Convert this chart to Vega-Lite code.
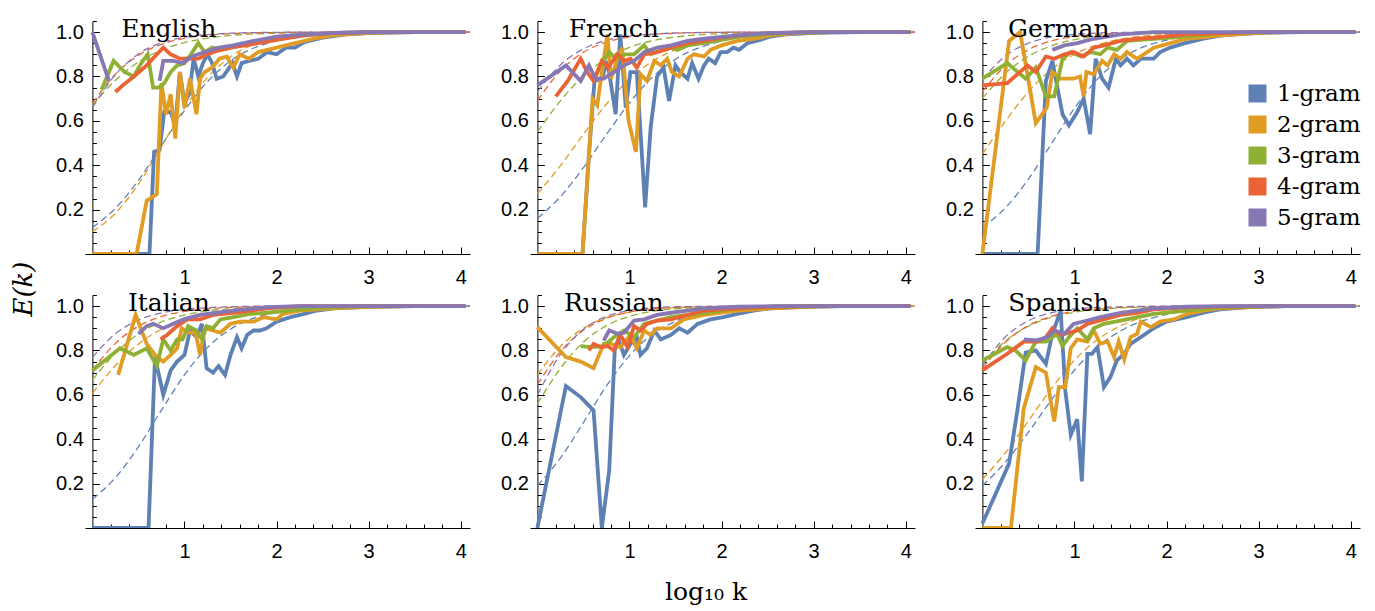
{
"$schema": "https://vega.github.io/schema/vega-lite/v6.json",
"padding": {"left": 11, "top": 16, "right": 5, "bottom": 5},
"background": "white",
"datasets": {
"langs": [
{"l":"EN","n":"English","r":1,"c":1},{"l":"FR","n":"French","r":1,"c":2},{"l":"DE","n":"German","r":1,"c":3},
{"l":"IT","n":"Italian","r":2,"c":1},{"l":"RU","n":"Russian","r":2,"c":2},{"l":"ES","n":"Spanish","r":2,"c":3}],
"pts": [
{"l":"EN","g":1,"t":"f","x":0,"y":0.119},{"l":"EN","g":1,"t":"f","x":0.25,"y":0.206},{"l":"EN","g":1,"t":"f","x":0.5,"y":0.332},{"l":"EN","g":1,"t":"f","x":0.75,"y":0.488},{"l":"EN","g":1,"t":"f","x":1,"y":0.646},{"l":"EN","g":1,"t":"f","x":1.25,"y":0.777},{"l":"EN","g":1,"t":"f","x":1.5,"y":0.87},{"l":"EN","g":1,"t":"f","x":2,"y":0.961},{"l":"EN","g":1,"t":"f","x":2.5,"y":0.989},{"l":"EN","g":1,"t":"f","x":4.1,"y":1},
{"l":"EN","g":2,"t":"f","x":0,"y":0.1},{"l":"EN","g":2,"t":"f","x":0.25,"y":0.184},{"l":"EN","g":2,"t":"f","x":0.5,"y":0.315},{"l":"EN","g":2,"t":"f","x":0.75,"y":0.485},{"l":"EN","g":2,"t":"f","x":1,"y":0.657},{"l":"EN","g":2,"t":"f","x":1.25,"y":0.796},{"l":"EN","g":2,"t":"f","x":1.5,"y":0.889},{"l":"EN","g":2,"t":"f","x":2,"y":0.971},{"l":"EN","g":2,"t":"f","x":2.5,"y":0.993},{"l":"EN","g":2,"t":"f","x":4.1,"y":1},
{"l":"EN","g":3,"t":"f","x":0,"y":0.67},{"l":"EN","g":3,"t":"f","x":0.25,"y":0.783},{"l":"EN","g":3,"t":"f","x":0.5,"y":0.865},{"l":"EN","g":3,"t":"f","x":0.75,"y":0.919},{"l":"EN","g":3,"t":"f","x":1,"y":0.953},{"l":"EN","g":3,"t":"f","x":1.25,"y":0.973},{"l":"EN","g":3,"t":"f","x":1.5,"y":0.985},{"l":"EN","g":3,"t":"f","x":2,"y":0.995},{"l":"EN","g":3,"t":"f","x":2.5,"y":0.998},{"l":"EN","g":3,"t":"f","x":4.1,"y":1},
{"l":"EN","g":4,"t":"f","x":0,"y":0.679},{"l":"EN","g":4,"t":"f","x":0.25,"y":0.81},{"l":"EN","g":4,"t":"f","x":0.5,"y":0.896},{"l":"EN","g":4,"t":"f","x":0.75,"y":0.945},{"l":"EN","g":4,"t":"f","x":1,"y":0.972},{"l":"EN","g":4,"t":"f","x":1.25,"y":0.986},{"l":"EN","g":4,"t":"f","x":1.5,"y":0.993},{"l":"EN","g":4,"t":"f","x":2,"y":0.998},{"l":"EN","g":4,"t":"f","x":2.5,"y":1},{"l":"EN","g":4,"t":"f","x":4.1,"y":1},
{"l":"EN","g":5,"t":"f","x":0,"y":0.659},{"l":"EN","g":5,"t":"f","x":0.25,"y":0.808},{"l":"EN","g":5,"t":"f","x":0.5,"y":0.901},{"l":"EN","g":5,"t":"f","x":0.75,"y":0.952},{"l":"EN","g":5,"t":"f","x":1,"y":0.977},{"l":"EN","g":5,"t":"f","x":1.25,"y":0.989},{"l":"EN","g":5,"t":"f","x":1.5,"y":0.995},{"l":"EN","g":5,"t":"f","x":2,"y":0.999},{"l":"EN","g":5,"t":"f","x":2.5,"y":1},{"l":"EN","g":5,"t":"f","x":4.1,"y":1},
{"l":"FR","g":1,"t":"f","x":0,"y":0.16},{"l":"FR","g":1,"t":"f","x":0.25,"y":0.258},{"l":"FR","g":1,"t":"f","x":0.5,"y":0.389},{"l":"FR","g":1,"t":"f","x":0.75,"y":0.539},{"l":"FR","g":1,"t":"f","x":1,"y":0.681},{"l":"FR","g":1,"t":"f","x":1.25,"y":0.797},{"l":"FR","g":1,"t":"f","x":1.5,"y":0.878},{"l":"FR","g":1,"t":"f","x":2,"y":0.96},{"l":"FR","g":1,"t":"f","x":2.5,"y":0.988},{"l":"FR","g":1,"t":"f","x":4.1,"y":1},
{"l":"FR","g":2,"t":"f","x":0,"y":0.271},{"l":"FR","g":2,"t":"f","x":0.25,"y":0.398},{"l":"FR","g":2,"t":"f","x":0.5,"y":0.54},{"l":"FR","g":2,"t":"f","x":0.75,"y":0.676},{"l":"FR","g":2,"t":"f","x":1,"y":0.788},{"l":"FR","g":2,"t":"f","x":1.25,"y":0.868},{"l":"FR","g":2,"t":"f","x":1.5,"y":0.921},{"l":"FR","g":2,"t":"f","x":2,"y":0.974},{"l":"FR","g":2,"t":"f","x":2.5,"y":0.992},{"l":"FR","g":2,"t":"f","x":4.1,"y":1},
{"l":"FR","g":3,"t":"f","x":0,"y":0.55},{"l":"FR","g":3,"t":"f","x":0.25,"y":0.69},{"l":"FR","g":3,"t":"f","x":0.5,"y":0.802},{"l":"FR","g":3,"t":"f","x":0.75,"y":0.881},{"l":"FR","g":3,"t":"f","x":1,"y":0.931},{"l":"FR","g":3,"t":"f","x":1.25,"y":0.961},{"l":"FR","g":3,"t":"f","x":1.5,"y":0.978},{"l":"FR","g":3,"t":"f","x":2,"y":0.993},{"l":"FR","g":3,"t":"f","x":2.5,"y":0.998},{"l":"FR","g":3,"t":"f","x":4.1,"y":1},
{"l":"FR","g":4,"t":"f","x":0,"y":0.69},{"l":"FR","g":4,"t":"f","x":0.25,"y":0.825},{"l":"FR","g":4,"t":"f","x":0.5,"y":0.909},{"l":"FR","g":4,"t":"f","x":0.75,"y":0.955},{"l":"FR","g":4,"t":"f","x":1,"y":0.978},{"l":"FR","g":4,"t":"f","x":1.25,"y":0.99},{"l":"FR","g":4,"t":"f","x":1.5,"y":0.995},{"l":"FR","g":4,"t":"f","x":2,"y":0.999},{"l":"FR","g":4,"t":"f","x":2.5,"y":1},{"l":"FR","g":4,"t":"f","x":4.1,"y":1},
{"l":"FR","g":5,"t":"f","x":0,"y":0.731},{"l":"FR","g":5,"t":"f","x":0.25,"y":0.852},{"l":"FR","g":5,"t":"f","x":0.5,"y":0.924},{"l":"FR","g":5,"t":"f","x":0.75,"y":0.963},{"l":"FR","g":5,"t":"f","x":1,"y":0.982},{"l":"FR","g":5,"t":"f","x":1.25,"y":0.991},{"l":"FR","g":5,"t":"f","x":1.5,"y":0.996},{"l":"FR","g":5,"t":"f","x":2,"y":0.999},{"l":"FR","g":5,"t":"f","x":2.5,"y":1},{"l":"FR","g":5,"t":"f","x":4.1,"y":1},
{"l":"DE","g":1,"t":"f","x":0,"y":0.119},{"l":"DE","g":1,"t":"f","x":0.25,"y":0.208},{"l":"DE","g":1,"t":"f","x":0.5,"y":0.337},{"l":"DE","g":1,"t":"f","x":0.75,"y":0.497},{"l":"DE","g":1,"t":"f","x":1,"y":0.657},{"l":"DE","g":1,"t":"f","x":1.25,"y":0.788},{"l":"DE","g":1,"t":"f","x":1.5,"y":0.878},{"l":"DE","g":1,"t":"f","x":2,"y":0.964},{"l":"DE","g":1,"t":"f","x":2.5,"y":0.99},{"l":"DE","g":1,"t":"f","x":4.1,"y":1},
{"l":"DE","g":2,"t":"f","x":0,"y":0.45},{"l":"DE","g":2,"t":"f","x":0.25,"y":0.599},{"l":"DE","g":2,"t":"f","x":0.5,"y":0.731},{"l":"DE","g":2,"t":"f","x":0.75,"y":0.832},{"l":"DE","g":2,"t":"f","x":1,"y":0.9},{"l":"DE","g":2,"t":"f","x":1.25,"y":0.943},{"l":"DE","g":2,"t":"f","x":1.5,"y":0.968},{"l":"DE","g":2,"t":"f","x":2,"y":0.99},{"l":"DE","g":2,"t":"f","x":2.5,"y":0.997},{"l":"DE","g":2,"t":"f","x":4.1,"y":1},
{"l":"DE","g":3,"t":"f","x":0,"y":0.701},{"l":"DE","g":3,"t":"f","x":0.25,"y":0.814},{"l":"DE","g":3,"t":"f","x":0.5,"y":0.891},{"l":"DE","g":3,"t":"f","x":0.75,"y":0.938},{"l":"DE","g":3,"t":"f","x":1,"y":0.966},{"l":"DE","g":3,"t":"f","x":1.25,"y":0.982},{"l":"DE","g":3,"t":"f","x":1.5,"y":0.99},{"l":"DE","g":3,"t":"f","x":2,"y":0.997},{"l":"DE","g":3,"t":"f","x":2.5,"y":0.999},{"l":"DE","g":3,"t":"f","x":4.1,"y":1},
{"l":"DE","g":4,"t":"f","x":0,"y":0.731},{"l":"DE","g":4,"t":"f","x":0.25,"y":0.849},{"l":"DE","g":4,"t":"f","x":0.5,"y":0.921},{"l":"DE","g":4,"t":"f","x":0.75,"y":0.96},{"l":"DE","g":4,"t":"f","x":1,"y":0.98},{"l":"DE","g":4,"t":"f","x":1.25,"y":0.99},{"l":"DE","g":4,"t":"f","x":1.5,"y":0.995},{"l":"DE","g":4,"t":"f","x":2,"y":0.999},{"l":"DE","g":4,"t":"f","x":2.5,"y":1},{"l":"DE","g":4,"t":"f","x":4.1,"y":1},
{"l":"DE","g":5,"t":"f","x":0,"y":0.786},{"l":"DE","g":5,"t":"f","x":0.25,"y":0.893},{"l":"DE","g":5,"t":"f","x":0.5,"y":0.95},{"l":"DE","g":5,"t":"f","x":0.75,"y":0.978},{"l":"DE","g":5,"t":"f","x":1,"y":0.99},{"l":"DE","g":5,"t":"f","x":1.25,"y":0.996},{"l":"DE","g":5,"t":"f","x":1.5,"y":0.998},{"l":"DE","g":5,"t":"f","x":2,"y":1},{"l":"DE","g":5,"t":"f","x":2.5,"y":1},{"l":"DE","g":5,"t":"f","x":4.1,"y":1},
{"l":"IT","g":1,"t":"f","x":0,"y":0.13},{"l":"IT","g":1,"t":"f","x":0.25,"y":0.227},{"l":"IT","g":1,"t":"f","x":0.5,"y":0.366},{"l":"IT","g":1,"t":"f","x":0.75,"y":0.531},{"l":"IT","g":1,"t":"f","x":1,"y":0.69},{"l":"IT","g":1,"t":"f","x":1.25,"y":0.814},{"l":"IT","g":1,"t":"f","x":1.5,"y":0.896},{"l":"IT","g":1,"t":"f","x":2,"y":0.971},{"l":"IT","g":1,"t":"f","x":2.5,"y":0.992},{"l":"IT","g":1,"t":"f","x":4.1,"y":1},
{"l":"IT","g":2,"t":"f","x":0,"y":0.606},{"l":"IT","g":2,"t":"f","x":0.25,"y":0.732},{"l":"IT","g":2,"t":"f","x":0.5,"y":0.829},{"l":"IT","g":2,"t":"f","x":0.75,"y":0.896},{"l":"IT","g":2,"t":"f","x":1,"y":0.939},{"l":"IT","g":2,"t":"f","x":1.25,"y":0.965},{"l":"IT","g":2,"t":"f","x":1.5,"y":0.98},{"l":"IT","g":2,"t":"f","x":2,"y":0.993},{"l":"IT","g":2,"t":"f","x":2.5,"y":0.998},{"l":"IT","g":2,"t":"f","x":4.1,"y":1},
{"l":"IT","g":3,"t":"f","x":0,"y":0.666},{"l":"IT","g":3,"t":"f","x":0.25,"y":0.788},{"l":"IT","g":3,"t":"f","x":0.5,"y":0.874},{"l":"IT","g":3,"t":"f","x":0.75,"y":0.929},{"l":"IT","g":3,"t":"f","x":1,"y":0.96},{"l":"IT","g":3,"t":"f","x":1.25,"y":0.978},{"l":"IT","g":3,"t":"f","x":1.5,"y":0.988},{"l":"IT","g":3,"t":"f","x":2,"y":0.997},{"l":"IT","g":3,"t":"f","x":2.5,"y":0.999},{"l":"IT","g":3,"t":"f","x":4.1,"y":1},
{"l":"IT","g":4,"t":"f","x":0,"y":0.711},{"l":"IT","g":4,"t":"f","x":0.25,"y":0.832},{"l":"IT","g":4,"t":"f","x":0.5,"y":0.909},{"l":"IT","g":4,"t":"f","x":0.75,"y":0.953},{"l":"IT","g":4,"t":"f","x":1,"y":0.976},{"l":"IT","g":4,"t":"f","x":1.25,"y":0.988},{"l":"IT","g":4,"t":"f","x":1.5,"y":0.994},{"l":"IT","g":4,"t":"f","x":2,"y":0.998},{"l":"IT","g":4,"t":"f","x":2.5,"y":1},{"l":"IT","g":4,"t":"f","x":4.1,"y":1},
{"l":"IT","g":5,"t":"f","x":0,"y":0.769},{"l":"IT","g":5,"t":"f","x":0.25,"y":0.875},{"l":"IT","g":5,"t":"f","x":0.5,"y":0.937},{"l":"IT","g":5,"t":"f","x":0.75,"y":0.969},{"l":"IT","g":5,"t":"f","x":1,"y":0.985},{"l":"IT","g":5,"t":"f","x":1.25,"y":0.993},{"l":"IT","g":5,"t":"f","x":1.5,"y":0.997},{"l":"IT","g":5,"t":"f","x":2,"y":1},{"l":"IT","g":5,"t":"f","x":2.5,"y":1},{"l":"IT","g":5,"t":"f","x":4.1,"y":1},
{"l":"RU","g":1,"t":"f","x":0,"y":0.19},{"l":"RU","g":1,"t":"f","x":0.25,"y":0.315},{"l":"RU","g":1,"t":"f","x":0.5,"y":0.475},{"l":"RU","g":1,"t":"f","x":0.75,"y":0.64},{"l":"RU","g":1,"t":"f","x":1,"y":0.777},{"l":"RU","g":1,"t":"f","x":1.25,"y":0.873},{"l":"RU","g":1,"t":"f","x":1.5,"y":0.931},{"l":"RU","g":1,"t":"f","x":2,"y":0.981},{"l":"RU","g":1,"t":"f","x":2.5,"y":0.995},{"l":"RU","g":1,"t":"f","x":4.1,"y":1},
{"l":"RU","g":2,"t":"f","x":0,"y":0.69},{"l":"RU","g":2,"t":"f","x":0.25,"y":0.818},{"l":"RU","g":2,"t":"f","x":0.5,"y":0.9},{"l":"RU","g":2,"t":"f","x":0.75,"y":0.948},{"l":"RU","g":2,"t":"f","x":1,"y":0.973},{"l":"RU","g":2,"t":"f","x":1.25,"y":0.987},{"l":"RU","g":2,"t":"f","x":1.5,"y":0.993},{"l":"RU","g":2,"t":"f","x":2,"y":0.998},{"l":"RU","g":2,"t":"f","x":2.5,"y":1},{"l":"RU","g":2,"t":"f","x":4.1,"y":1},
{"l":"RU","g":3,"t":"f","x":0,"y":0.56},{"l":"RU","g":3,"t":"f","x":0.25,"y":0.719},{"l":"RU","g":3,"t":"f","x":0.5,"y":0.838},{"l":"RU","g":3,"t":"f","x":0.75,"y":0.912},{"l":"RU","g":3,"t":"f","x":1,"y":0.954},{"l":"RU","g":3,"t":"f","x":1.25,"y":0.977},{"l":"RU","g":3,"t":"f","x":1.5,"y":0.988},{"l":"RU","g":3,"t":"f","x":2,"y":0.997},{"l":"RU","g":3,"t":"f","x":2.5,"y":1},{"l":"RU","g":3,"t":"f","x":4.1,"y":1},
{"l":"RU","g":4,"t":"f","x":0,"y":0.646},{"l":"RU","g":4,"t":"f","x":0.25,"y":0.794},{"l":"RU","g":4,"t":"f","x":0.5,"y":0.891},{"l":"RU","g":4,"t":"f","x":0.75,"y":0.945},{"l":"RU","g":4,"t":"f","x":1,"y":0.973},{"l":"RU","g":4,"t":"f","x":1.25,"y":0.987},{"l":"RU","g":4,"t":"f","x":1.5,"y":0.994},{"l":"RU","g":4,"t":"f","x":2,"y":0.999},{"l":"RU","g":4,"t":"f","x":2.5,"y":1},{"l":"RU","g":4,"t":"f","x":4.1,"y":1},
{"l":"RU","g":5,"t":"f","x":0,"y":0.599},{"l":"RU","g":5,"t":"f","x":0.25,"y":0.782},{"l":"RU","g":5,"t":"f","x":0.5,"y":0.896},{"l":"RU","g":5,"t":"f","x":0.75,"y":0.954},{"l":"RU","g":5,"t":"f","x":1,"y":0.98},{"l":"RU","g":5,"t":"f","x":1.25,"y":0.992},{"l":"RU","g":5,"t":"f","x":1.5,"y":0.997},{"l":"RU","g":5,"t":"f","x":2,"y":0.999},{"l":"RU","g":5,"t":"f","x":2.5,"y":1},{"l":"RU","g":5,"t":"f","x":4.1,"y":1},
{"l":"ES","g":1,"t":"f","x":0,"y":0.19},{"l":"ES","g":1,"t":"f","x":0.25,"y":0.297},{"l":"ES","g":1,"t":"f","x":0.5,"y":0.432},{"l":"ES","g":1,"t":"f","x":0.75,"y":0.577},{"l":"ES","g":1,"t":"f","x":1,"y":0.711},{"l":"ES","g":1,"t":"f","x":1.25,"y":0.816},{"l":"ES","g":1,"t":"f","x":1.5,"y":0.888},{"l":"ES","g":1,"t":"f","x":2,"y":0.963},{"l":"ES","g":1,"t":"f","x":2.5,"y":0.988},{"l":"ES","g":1,"t":"f","x":4.1,"y":1},
{"l":"ES","g":2,"t":"f","x":0,"y":0.219},{"l":"ES","g":2,"t":"f","x":0.25,"y":0.339},{"l":"ES","g":2,"t":"f","x":0.5,"y":0.483},{"l":"ES","g":2,"t":"f","x":0.75,"y":0.629},{"l":"ES","g":2,"t":"f","x":1,"y":0.756},{"l":"ES","g":2,"t":"f","x":1.25,"y":0.849},{"l":"ES","g":2,"t":"f","x":1.5,"y":0.911},{"l":"ES","g":2,"t":"f","x":2,"y":0.972},{"l":"ES","g":2,"t":"f","x":2.5,"y":0.991},{"l":"ES","g":2,"t":"f","x":4.1,"y":1},
{"l":"ES","g":3,"t":"f","x":0,"y":0.741},{"l":"ES","g":3,"t":"f","x":0.25,"y":0.842},{"l":"ES","g":3,"t":"f","x":0.5,"y":0.909},{"l":"ES","g":3,"t":"f","x":0.75,"y":0.949},{"l":"ES","g":3,"t":"f","x":1,"y":0.972},{"l":"ES","g":3,"t":"f","x":1.25,"y":0.985},{"l":"ES","g":3,"t":"f","x":1.5,"y":0.992},{"l":"ES","g":3,"t":"f","x":2,"y":0.998},{"l":"ES","g":3,"t":"f","x":2.5,"y":1},{"l":"ES","g":3,"t":"f","x":4.1,"y":1},
{"l":"ES","g":4,"t":"f","x":0,"y":0.719},{"l":"ES","g":4,"t":"f","x":0.25,"y":0.838},{"l":"ES","g":4,"t":"f","x":0.5,"y":0.912},{"l":"ES","g":4,"t":"f","x":0.75,"y":0.954},{"l":"ES","g":4,"t":"f","x":1,"y":0.977},{"l":"ES","g":4,"t":"f","x":1.25,"y":0.988},{"l":"ES","g":4,"t":"f","x":1.5,"y":0.994},{"l":"ES","g":4,"t":"f","x":2,"y":0.999},{"l":"ES","g":4,"t":"f","x":2.5,"y":1},{"l":"ES","g":4,"t":"f","x":4.1,"y":1},
{"l":"ES","g":5,"t":"f","x":0,"y":0.731},{"l":"ES","g":5,"t":"f","x":0.25,"y":0.861},{"l":"ES","g":5,"t":"f","x":0.5,"y":0.934},{"l":"ES","g":5,"t":"f","x":0.75,"y":0.97},{"l":"ES","g":5,"t":"f","x":1,"y":0.987},{"l":"ES","g":5,"t":"f","x":1.25,"y":0.994},{"l":"ES","g":5,"t":"f","x":1.5,"y":0.997},{"l":"ES","g":5,"t":"f","x":2,"y":1},{"l":"ES","g":5,"t":"f","x":2.5,"y":1},{"l":"ES","g":5,"t":"f","x":4.1,"y":1},

{"l":"EN","g":1,"t":"d","x":0,"y":0},{"l":"EN","g":1,"t":"d","x":0.62,"y":0},{"l":"EN","g":1,"t":"d","x":0.67,"y":0.46},{"l":"EN","g":1,"t":"d","x":0.73,"y":0.47},{"l":"EN","g":1,"t":"d","x":0.78,"y":0.64},{"l":"EN","g":1,"t":"d","x":0.85,"y":0.64},{"l":"EN","g":1,"t":"d","x":0.9,"y":0.58},{"l":"EN","g":1,"t":"d","x":0.95,"y":0.82},{"l":"EN","g":1,"t":"d","x":1,"y":0.68},{"l":"EN","g":1,"t":"d","x":1.05,"y":0.72},{"l":"EN","g":1,"t":"d","x":1.1,"y":0.88},{"l":"EN","g":1,"t":"d","x":1.15,"y":0.8},{"l":"EN","g":1,"t":"d","x":1.2,"y":0.86},{"l":"EN","g":1,"t":"d","x":1.25,"y":0.9},{"l":"EN","g":1,"t":"d","x":1.3,"y":0.86},{"l":"EN","g":1,"t":"d","x":1.35,"y":0.79},{"l":"EN","g":1,"t":"d","x":1.42,"y":0.8},{"l":"EN","g":1,"t":"d","x":1.47,"y":0.83},{"l":"EN","g":1,"t":"d","x":1.52,"y":0.86},{"l":"EN","g":1,"t":"d","x":1.57,"y":0.8},{"l":"EN","g":1,"t":"d","x":1.62,"y":0.86},{"l":"EN","g":1,"t":"d","x":1.7,"y":0.87},{"l":"EN","g":1,"t":"d","x":1.8,"y":0.88},{"l":"EN","g":1,"t":"d","x":1.9,"y":0.91},{"l":"EN","g":1,"t":"d","x":2,"y":0.9},{"l":"EN","g":1,"t":"d","x":2.1,"y":0.93},{"l":"EN","g":1,"t":"d","x":2.2,"y":0.93},{"l":"EN","g":1,"t":"d","x":2.3,"y":0.955},{"l":"EN","g":1,"t":"d","x":2.5,"y":0.975},{"l":"EN","g":1,"t":"d","x":2.75,"y":0.99},{"l":"EN","g":1,"t":"d","x":3,"y":0.996},{"l":"EN","g":1,"t":"d","x":3.5,"y":1},{"l":"EN","g":1,"t":"d","x":4.05,"y":1},
{"l":"EN","g":2,"t":"d","x":0,"y":0},{"l":"EN","g":2,"t":"d","x":0.48,"y":0},{"l":"EN","g":2,"t":"d","x":0.59,"y":0.24},{"l":"EN","g":2,"t":"d","x":0.7,"y":0.27},{"l":"EN","g":2,"t":"d","x":0.75,"y":0.77},{"l":"EN","g":2,"t":"d","x":0.8,"y":0.63},{"l":"EN","g":2,"t":"d","x":0.85,"y":0.72},{"l":"EN","g":2,"t":"d","x":0.9,"y":0.52},{"l":"EN","g":2,"t":"d","x":0.95,"y":0.82},{"l":"EN","g":2,"t":"d","x":1,"y":0.66},{"l":"EN","g":2,"t":"d","x":1.06,"y":0.79},{"l":"EN","g":2,"t":"d","x":1.13,"y":0.63},{"l":"EN","g":2,"t":"d","x":1.17,"y":0.79},{"l":"EN","g":2,"t":"d","x":1.22,"y":0.82},{"l":"EN","g":2,"t":"d","x":1.3,"y":0.84},{"l":"EN","g":2,"t":"d","x":1.38,"y":0.88},{"l":"EN","g":2,"t":"d","x":1.46,"y":0.89},{"l":"EN","g":2,"t":"d","x":1.53,"y":0.84},{"l":"EN","g":2,"t":"d","x":1.6,"y":0.9},{"l":"EN","g":2,"t":"d","x":1.7,"y":0.88},{"l":"EN","g":2,"t":"d","x":1.8,"y":0.91},{"l":"EN","g":2,"t":"d","x":1.9,"y":0.92},{"l":"EN","g":2,"t":"d","x":2,"y":0.93},{"l":"EN","g":2,"t":"d","x":2.2,"y":0.95},{"l":"EN","g":2,"t":"d","x":2.4,"y":0.97},{"l":"EN","g":2,"t":"d","x":2.6,"y":0.985},{"l":"EN","g":2,"t":"d","x":3,"y":0.997},{"l":"EN","g":2,"t":"d","x":3.5,"y":1},{"l":"EN","g":2,"t":"d","x":4.05,"y":1},
{"l":"EN","g":3,"t":"d","x":0.1,"y":0.74},{"l":"EN","g":3,"t":"d","x":0.23,"y":0.87},{"l":"EN","g":3,"t":"d","x":0.35,"y":0.82},{"l":"EN","g":3,"t":"d","x":0.45,"y":0.8},{"l":"EN","g":3,"t":"d","x":0.53,"y":0.86},{"l":"EN","g":3,"t":"d","x":0.6,"y":0.9},{"l":"EN","g":3,"t":"d","x":0.66,"y":0.75},{"l":"EN","g":3,"t":"d","x":0.72,"y":0.75},{"l":"EN","g":3,"t":"d","x":0.78,"y":0.77},{"l":"EN","g":3,"t":"d","x":0.85,"y":0.82},{"l":"EN","g":3,"t":"d","x":0.92,"y":0.85},{"l":"EN","g":3,"t":"d","x":1,"y":0.86},{"l":"EN","g":3,"t":"d","x":1.07,"y":0.9},{"l":"EN","g":3,"t":"d","x":1.15,"y":0.95},{"l":"EN","g":3,"t":"d","x":1.22,"y":0.91},{"l":"EN","g":3,"t":"d","x":1.3,"y":0.93},{"l":"EN","g":3,"t":"d","x":1.4,"y":0.92},{"l":"EN","g":3,"t":"d","x":1.5,"y":0.93},{"l":"EN","g":3,"t":"d","x":1.6,"y":0.94},{"l":"EN","g":3,"t":"d","x":1.75,"y":0.95},{"l":"EN","g":3,"t":"d","x":1.9,"y":0.96},{"l":"EN","g":3,"t":"d","x":2.1,"y":0.975},{"l":"EN","g":3,"t":"d","x":2.3,"y":0.985},{"l":"EN","g":3,"t":"d","x":2.6,"y":0.995},{"l":"EN","g":3,"t":"d","x":3,"y":1},{"l":"EN","g":3,"t":"d","x":4.05,"y":1},
{"l":"EN","g":4,"t":"d","x":0.25,"y":0.73},{"l":"EN","g":4,"t":"d","x":0.33,"y":0.76},{"l":"EN","g":4,"t":"d","x":0.45,"y":0.8},{"l":"EN","g":4,"t":"d","x":0.59,"y":0.85},{"l":"EN","g":4,"t":"d","x":0.7,"y":0.9},{"l":"EN","g":4,"t":"d","x":0.77,"y":0.93},{"l":"EN","g":4,"t":"d","x":0.85,"y":0.9},{"l":"EN","g":4,"t":"d","x":0.95,"y":0.88},{"l":"EN","g":4,"t":"d","x":1.05,"y":0.88},{"l":"EN","g":4,"t":"d","x":1.15,"y":0.88},{"l":"EN","g":4,"t":"d","x":1.25,"y":0.9},{"l":"EN","g":4,"t":"d","x":1.35,"y":0.915},{"l":"EN","g":4,"t":"d","x":1.5,"y":0.93},{"l":"EN","g":4,"t":"d","x":1.65,"y":0.94},{"l":"EN","g":4,"t":"d","x":1.8,"y":0.95},{"l":"EN","g":4,"t":"d","x":2,"y":0.965},{"l":"EN","g":4,"t":"d","x":2.3,"y":0.985},{"l":"EN","g":4,"t":"d","x":2.6,"y":0.995},{"l":"EN","g":4,"t":"d","x":3,"y":1},{"l":"EN","g":4,"t":"d","x":4.05,"y":1},
{"l":"EN","g":5,"t":"d","x":0,"y":1},{"l":"EN","g":5,"t":"d","x":0.18,"y":0.78},{"l":"EN","g":5,"t":"d","x":0.4,"y":null},{"l":"EN","g":5,"t":"d","x":0.73,"y":0.78},{"l":"EN","g":5,"t":"d","x":0.77,"y":0.87},{"l":"EN","g":5,"t":"d","x":0.88,"y":0.87},{"l":"EN","g":5,"t":"d","x":0.98,"y":0.86},{"l":"EN","g":5,"t":"d","x":1.08,"y":0.89},{"l":"EN","g":5,"t":"d","x":1.22,"y":0.91},{"l":"EN","g":5,"t":"d","x":1.37,"y":0.93},{"l":"EN","g":5,"t":"d","x":1.53,"y":0.94},{"l":"EN","g":5,"t":"d","x":1.75,"y":0.96},{"l":"EN","g":5,"t":"d","x":2,"y":0.98},{"l":"EN","g":5,"t":"d","x":2.3,"y":0.99},{"l":"EN","g":5,"t":"d","x":2.7,"y":0.997},{"l":"EN","g":5,"t":"d","x":3,"y":1},{"l":"EN","g":5,"t":"d","x":4.05,"y":1},

{"l":"FR","g":1,"t":"d","x":0,"y":0},{"l":"FR","g":1,"t":"d","x":0.49,"y":0},{"l":"FR","g":1,"t":"d","x":0.56,"y":0.45},{"l":"FR","g":1,"t":"d","x":0.62,"y":0.78},{"l":"FR","g":1,"t":"d","x":0.7,"y":0.79},{"l":"FR","g":1,"t":"d","x":0.76,"y":0.87},{"l":"FR","g":1,"t":"d","x":0.85,"y":0.63},{"l":"FR","g":1,"t":"d","x":0.9,"y":0.99},{"l":"FR","g":1,"t":"d","x":0.96,"y":0.66},{"l":"FR","g":1,"t":"d","x":1.01,"y":0.82},{"l":"FR","g":1,"t":"d","x":1.08,"y":0.82},{"l":"FR","g":1,"t":"d","x":1.17,"y":0.21},{"l":"FR","g":1,"t":"d","x":1.23,"y":0.57},{"l":"FR","g":1,"t":"d","x":1.3,"y":0.8},{"l":"FR","g":1,"t":"d","x":1.37,"y":0.84},{"l":"FR","g":1,"t":"d","x":1.43,"y":0.69},{"l":"FR","g":1,"t":"d","x":1.5,"y":0.85},{"l":"FR","g":1,"t":"d","x":1.55,"y":0.82},{"l":"FR","g":1,"t":"d","x":1.63,"y":0.79},{"l":"FR","g":1,"t":"d","x":1.68,"y":0.86},{"l":"FR","g":1,"t":"d","x":1.75,"y":0.79},{"l":"FR","g":1,"t":"d","x":1.81,"y":0.85},{"l":"FR","g":1,"t":"d","x":1.86,"y":0.88},{"l":"FR","g":1,"t":"d","x":1.93,"y":0.86},{"l":"FR","g":1,"t":"d","x":1.99,"y":0.91},{"l":"FR","g":1,"t":"d","x":2.06,"y":0.91},{"l":"FR","g":1,"t":"d","x":2.13,"y":0.93},{"l":"FR","g":1,"t":"d","x":2.19,"y":0.92},{"l":"FR","g":1,"t":"d","x":2.28,"y":0.95},{"l":"FR","g":1,"t":"d","x":2.42,"y":0.965},{"l":"FR","g":1,"t":"d","x":2.53,"y":0.98},{"l":"FR","g":1,"t":"d","x":2.7,"y":0.99},{"l":"FR","g":1,"t":"d","x":3,"y":0.997},{"l":"FR","g":1,"t":"d","x":3.5,"y":1},{"l":"FR","g":1,"t":"d","x":4.05,"y":1},
{"l":"FR","g":2,"t":"d","x":0,"y":0},{"l":"FR","g":2,"t":"d","x":0.49,"y":0},{"l":"FR","g":2,"t":"d","x":0.6,"y":0.7},{"l":"FR","g":2,"t":"d","x":0.65,"y":0.67},{"l":"FR","g":2,"t":"d","x":0.76,"y":0.99},{"l":"FR","g":2,"t":"d","x":0.8,"y":0.79},{"l":"FR","g":2,"t":"d","x":0.87,"y":0.88},{"l":"FR","g":2,"t":"d","x":0.92,"y":0.93},{"l":"FR","g":2,"t":"d","x":0.99,"y":0.6},{"l":"FR","g":2,"t":"d","x":1.07,"y":0.46},{"l":"FR","g":2,"t":"d","x":1.12,"y":0.81},{"l":"FR","g":2,"t":"d","x":1.19,"y":0.78},{"l":"FR","g":2,"t":"d","x":1.27,"y":0.87},{"l":"FR","g":2,"t":"d","x":1.34,"y":0.85},{"l":"FR","g":2,"t":"d","x":1.41,"y":0.88},{"l":"FR","g":2,"t":"d","x":1.46,"y":0.82},{"l":"FR","g":2,"t":"d","x":1.54,"y":0.8},{"l":"FR","g":2,"t":"d","x":1.63,"y":0.88},{"l":"FR","g":2,"t":"d","x":1.7,"y":0.9},{"l":"FR","g":2,"t":"d","x":1.81,"y":0.89},{"l":"FR","g":2,"t":"d","x":1.88,"y":0.92},{"l":"FR","g":2,"t":"d","x":2,"y":0.94},{"l":"FR","g":2,"t":"d","x":2.17,"y":0.96},{"l":"FR","g":2,"t":"d","x":2.35,"y":0.97},{"l":"FR","g":2,"t":"d","x":2.53,"y":0.985},{"l":"FR","g":2,"t":"d","x":2.8,"y":0.995},{"l":"FR","g":2,"t":"d","x":3.2,"y":1},{"l":"FR","g":2,"t":"d","x":4.05,"y":1},
{"l":"FR","g":3,"t":"d","x":0.62,"y":0.79},{"l":"FR","g":3,"t":"d","x":0.7,"y":0.86},{"l":"FR","g":3,"t":"d","x":0.78,"y":0.91},{"l":"FR","g":3,"t":"d","x":0.85,"y":0.88},{"l":"FR","g":3,"t":"d","x":0.95,"y":0.9},{"l":"FR","g":3,"t":"d","x":1.05,"y":0.9},{"l":"FR","g":3,"t":"d","x":1.16,"y":0.94},{"l":"FR","g":3,"t":"d","x":1.23,"y":0.9},{"l":"FR","g":3,"t":"d","x":1.3,"y":0.91},{"l":"FR","g":3,"t":"d","x":1.45,"y":0.93},{"l":"FR","g":3,"t":"d","x":1.52,"y":0.92},{"l":"FR","g":3,"t":"d","x":1.63,"y":0.94},{"l":"FR","g":3,"t":"d","x":1.8,"y":0.95},{"l":"FR","g":3,"t":"d","x":2,"y":0.965},{"l":"FR","g":3,"t":"d","x":2.2,"y":0.98},{"l":"FR","g":3,"t":"d","x":2.5,"y":0.99},{"l":"FR","g":3,"t":"d","x":2.8,"y":0.997},{"l":"FR","g":3,"t":"d","x":3.2,"y":1},{"l":"FR","g":3,"t":"d","x":4.05,"y":1},
{"l":"FR","g":4,"t":"d","x":0.2,"y":0.71},{"l":"FR","g":4,"t":"d","x":0.33,"y":0.78},{"l":"FR","g":4,"t":"d","x":0.47,"y":0.88},{"l":"FR","g":4,"t":"d","x":0.54,"y":0.82},{"l":"FR","g":4,"t":"d","x":0.61,"y":0.78},{"l":"FR","g":4,"t":"d","x":0.7,"y":0.87},{"l":"FR","g":4,"t":"d","x":0.77,"y":0.84},{"l":"FR","g":4,"t":"d","x":0.87,"y":0.9},{"l":"FR","g":4,"t":"d","x":0.94,"y":0.87},{"l":"FR","g":4,"t":"d","x":1.01,"y":0.88},{"l":"FR","g":4,"t":"d","x":1.08,"y":0.84},{"l":"FR","g":4,"t":"d","x":1.16,"y":0.9},{"l":"FR","g":4,"t":"d","x":1.3,"y":0.91},{"l":"FR","g":4,"t":"d","x":1.45,"y":0.93},{"l":"FR","g":4,"t":"d","x":1.63,"y":0.95},{"l":"FR","g":4,"t":"d","x":1.8,"y":0.96},{"l":"FR","g":4,"t":"d","x":2,"y":0.975},{"l":"FR","g":4,"t":"d","x":2.3,"y":0.99},{"l":"FR","g":4,"t":"d","x":2.6,"y":0.996},{"l":"FR","g":4,"t":"d","x":3,"y":1},{"l":"FR","g":4,"t":"d","x":4.05,"y":1},
{"l":"FR","g":5,"t":"d","x":0,"y":0.76},{"l":"FR","g":5,"t":"d","x":0.31,"y":0.85},{"l":"FR","g":5,"t":"d","x":0.47,"y":0.78},{"l":"FR","g":5,"t":"d","x":0.56,"y":0.85},{"l":"FR","g":5,"t":"d","x":0.63,"y":0.79},{"l":"FR","g":5,"t":"d","x":0.72,"y":0.79},{"l":"FR","g":5,"t":"d","x":0.83,"y":0.82},{"l":"FR","g":5,"t":"d","x":0.94,"y":0.85},{"l":"FR","g":5,"t":"d","x":1.05,"y":0.87},{"l":"FR","g":5,"t":"d","x":1.16,"y":0.91},{"l":"FR","g":5,"t":"d","x":1.3,"y":0.93},{"l":"FR","g":5,"t":"d","x":1.45,"y":0.94},{"l":"FR","g":5,"t":"d","x":1.63,"y":0.96},{"l":"FR","g":5,"t":"d","x":1.81,"y":0.97},{"l":"FR","g":5,"t":"d","x":2.17,"y":0.985},{"l":"FR","g":5,"t":"d","x":2.5,"y":0.995},{"l":"FR","g":5,"t":"d","x":3,"y":1},{"l":"FR","g":5,"t":"d","x":4.05,"y":1},

{"l":"DE","g":1,"t":"d","x":0,"y":0},{"l":"DE","g":1,"t":"d","x":0.6,"y":0},{"l":"DE","g":1,"t":"d","x":0.69,"y":0.78},{"l":"DE","g":1,"t":"d","x":0.76,"y":0.87},{"l":"DE","g":1,"t":"d","x":0.81,"y":0.76},{"l":"DE","g":1,"t":"d","x":0.87,"y":0.63},{"l":"DE","g":1,"t":"d","x":0.94,"y":0.58},{"l":"DE","g":1,"t":"d","x":1.03,"y":0.64},{"l":"DE","g":1,"t":"d","x":1.1,"y":0.7},{"l":"DE","g":1,"t":"d","x":1.17,"y":0.54},{"l":"DE","g":1,"t":"d","x":1.23,"y":0.88},{"l":"DE","g":1,"t":"d","x":1.3,"y":0.79},{"l":"DE","g":1,"t":"d","x":1.37,"y":0.75},{"l":"DE","g":1,"t":"d","x":1.45,"y":0.88},{"l":"DE","g":1,"t":"d","x":1.5,"y":0.85},{"l":"DE","g":1,"t":"d","x":1.57,"y":0.88},{"l":"DE","g":1,"t":"d","x":1.64,"y":0.85},{"l":"DE","g":1,"t":"d","x":1.72,"y":0.88},{"l":"DE","g":1,"t":"d","x":1.86,"y":0.88},{"l":"DE","g":1,"t":"d","x":1.93,"y":0.91},{"l":"DE","g":1,"t":"d","x":2.04,"y":0.93},{"l":"DE","g":1,"t":"d","x":2.2,"y":0.95},{"l":"DE","g":1,"t":"d","x":2.4,"y":0.97},{"l":"DE","g":1,"t":"d","x":2.6,"y":0.985},{"l":"DE","g":1,"t":"d","x":3,"y":0.997},{"l":"DE","g":1,"t":"d","x":3.5,"y":1},{"l":"DE","g":1,"t":"d","x":4.05,"y":1},
{"l":"DE","g":2,"t":"d","x":0,"y":0},{"l":"DE","g":2,"t":"d","x":0.29,"y":0.96},{"l":"DE","g":2,"t":"d","x":0.41,"y":1},{"l":"DE","g":2,"t":"d","x":0.58,"y":0.59},{"l":"DE","g":2,"t":"d","x":0.7,"y":0.66},{"l":"DE","g":2,"t":"d","x":0.76,"y":0.82},{"l":"DE","g":2,"t":"d","x":0.85,"y":0.79},{"l":"DE","g":2,"t":"d","x":0.99,"y":0.79},{"l":"DE","g":2,"t":"d","x":1.06,"y":0.8},{"l":"DE","g":2,"t":"d","x":1.1,"y":0.71},{"l":"DE","g":2,"t":"d","x":1.13,"y":0.82},{"l":"DE","g":2,"t":"d","x":1.21,"y":0.81},{"l":"DE","g":2,"t":"d","x":1.3,"y":0.87},{"l":"DE","g":2,"t":"d","x":1.36,"y":0.85},{"l":"DE","g":2,"t":"d","x":1.43,"y":0.9},{"l":"DE","g":2,"t":"d","x":1.5,"y":0.88},{"l":"DE","g":2,"t":"d","x":1.57,"y":0.91},{"l":"DE","g":2,"t":"d","x":1.68,"y":0.88},{"l":"DE","g":2,"t":"d","x":1.79,"y":0.91},{"l":"DE","g":2,"t":"d","x":1.86,"y":0.93},{"l":"DE","g":2,"t":"d","x":2.04,"y":0.95},{"l":"DE","g":2,"t":"d","x":2.22,"y":0.97},{"l":"DE","g":2,"t":"d","x":2.59,"y":0.985},{"l":"DE","g":2,"t":"d","x":2.95,"y":0.995},{"l":"DE","g":2,"t":"d","x":3.3,"y":1},{"l":"DE","g":2,"t":"d","x":4.05,"y":1},
{"l":"DE","g":3,"t":"d","x":0,"y":0.79},{"l":"DE","g":3,"t":"d","x":0.27,"y":0.86},{"l":"DE","g":3,"t":"d","x":0.47,"y":0.79},{"l":"DE","g":3,"t":"d","x":0.58,"y":0.84},{"l":"DE","g":3,"t":"d","x":0.69,"y":0.71},{"l":"DE","g":3,"t":"d","x":0.78,"y":0.71},{"l":"DE","g":3,"t":"d","x":0.87,"y":0.88},{"l":"DE","g":3,"t":"d","x":0.96,"y":0.91},{"l":"DE","g":3,"t":"d","x":1.07,"y":0.89},{"l":"DE","g":3,"t":"d","x":1.18,"y":0.91},{"l":"DE","g":3,"t":"d","x":1.28,"y":0.9},{"l":"DE","g":3,"t":"d","x":1.36,"y":0.93},{"l":"DE","g":3,"t":"d","x":1.46,"y":0.92},{"l":"DE","g":3,"t":"d","x":1.57,"y":0.96},{"l":"DE","g":3,"t":"d","x":1.86,"y":0.97},{"l":"DE","g":3,"t":"d","x":2.2,"y":0.98},{"l":"DE","g":3,"t":"d","x":2.6,"y":0.995},{"l":"DE","g":3,"t":"d","x":3,"y":1},{"l":"DE","g":3,"t":"d","x":4.05,"y":1},
{"l":"DE","g":4,"t":"d","x":0,"y":0.76},{"l":"DE","g":4,"t":"d","x":0.27,"y":0.77},{"l":"DE","g":4,"t":"d","x":0.49,"y":0.85},{"l":"DE","g":4,"t":"d","x":0.58,"y":0.82},{"l":"DE","g":4,"t":"d","x":0.69,"y":0.89},{"l":"DE","g":4,"t":"d","x":0.78,"y":0.88},{"l":"DE","g":4,"t":"d","x":0.89,"y":0.9},{"l":"DE","g":4,"t":"d","x":0.99,"y":0.91},{"l":"DE","g":4,"t":"d","x":1.1,"y":0.89},{"l":"DE","g":4,"t":"d","x":1.21,"y":0.93},{"l":"DE","g":4,"t":"d","x":1.32,"y":0.94},{"l":"DE","g":4,"t":"d","x":1.5,"y":0.96},{"l":"DE","g":4,"t":"d","x":1.68,"y":0.97},{"l":"DE","g":4,"t":"d","x":1.86,"y":0.975},{"l":"DE","g":4,"t":"d","x":2.22,"y":0.99},{"l":"DE","g":4,"t":"d","x":2.6,"y":0.996},{"l":"DE","g":4,"t":"d","x":3,"y":1},{"l":"DE","g":4,"t":"d","x":4.05,"y":1},
{"l":"DE","g":5,"t":"d","x":0.76,"y":0.92},{"l":"DE","g":5,"t":"d","x":0.89,"y":0.94},{"l":"DE","g":5,"t":"d","x":1.03,"y":0.95},{"l":"DE","g":5,"t":"d","x":1.21,"y":0.97},{"l":"DE","g":5,"t":"d","x":1.5,"y":0.99},{"l":"DE","g":5,"t":"d","x":1.86,"y":1},{"l":"DE","g":5,"t":"d","x":4.05,"y":1},

{"l":"IT","g":1,"t":"d","x":0,"y":0},{"l":"IT","g":1,"t":"d","x":0.61,"y":0},{"l":"IT","g":1,"t":"d","x":0.68,"y":0.77},{"l":"IT","g":1,"t":"d","x":0.77,"y":0.6},{"l":"IT","g":1,"t":"d","x":0.85,"y":0.71},{"l":"IT","g":1,"t":"d","x":0.92,"y":0.75},{"l":"IT","g":1,"t":"d","x":1,"y":0.78},{"l":"IT","g":1,"t":"d","x":1.06,"y":0.89},{"l":"IT","g":1,"t":"d","x":1.13,"y":0.86},{"l":"IT","g":1,"t":"d","x":1.19,"y":0.92},{"l":"IT","g":1,"t":"d","x":1.24,"y":0.72},{"l":"IT","g":1,"t":"d","x":1.31,"y":0.7},{"l":"IT","g":1,"t":"d","x":1.37,"y":0.73},{"l":"IT","g":1,"t":"d","x":1.44,"y":0.69},{"l":"IT","g":1,"t":"d","x":1.5,"y":0.78},{"l":"IT","g":1,"t":"d","x":1.57,"y":0.86},{"l":"IT","g":1,"t":"d","x":1.62,"y":0.81},{"l":"IT","g":1,"t":"d","x":1.68,"y":0.87},{"l":"IT","g":1,"t":"d","x":1.75,"y":0.89},{"l":"IT","g":1,"t":"d","x":1.82,"y":0.89},{"l":"IT","g":1,"t":"d","x":1.89,"y":0.9},{"l":"IT","g":1,"t":"d","x":2,"y":0.93},{"l":"IT","g":1,"t":"d","x":2.15,"y":0.95},{"l":"IT","g":1,"t":"d","x":2.3,"y":0.965},{"l":"IT","g":1,"t":"d","x":2.44,"y":0.98},{"l":"IT","g":1,"t":"d","x":2.62,"y":0.99},{"l":"IT","g":1,"t":"d","x":3,"y":0.997},{"l":"IT","g":1,"t":"d","x":3.5,"y":1},{"l":"IT","g":1,"t":"d","x":4.05,"y":1},
{"l":"IT","g":2,"t":"d","x":0.28,"y":0.69},{"l":"IT","g":2,"t":"d","x":0.47,"y":0.96},{"l":"IT","g":2,"t":"d","x":0.59,"y":0.83},{"l":"IT","g":2,"t":"d","x":0.7,"y":0.77},{"l":"IT","g":2,"t":"d","x":0.77,"y":0.75},{"l":"IT","g":2,"t":"d","x":0.85,"y":0.78},{"l":"IT","g":2,"t":"d","x":0.92,"y":0.81},{"l":"IT","g":2,"t":"d","x":0.97,"y":0.9},{"l":"IT","g":2,"t":"d","x":1.04,"y":0.88},{"l":"IT","g":2,"t":"d","x":1.12,"y":0.88},{"l":"IT","g":2,"t":"d","x":1.17,"y":0.78},{"l":"IT","g":2,"t":"d","x":1.22,"y":0.9},{"l":"IT","g":2,"t":"d","x":1.31,"y":0.89},{"l":"IT","g":2,"t":"d","x":1.39,"y":0.88},{"l":"IT","g":2,"t":"d","x":1.5,"y":0.92},{"l":"IT","g":2,"t":"d","x":1.6,"y":0.93},{"l":"IT","g":2,"t":"d","x":1.75,"y":0.93},{"l":"IT","g":2,"t":"d","x":1.86,"y":0.95},{"l":"IT","g":2,"t":"d","x":2,"y":0.94},{"l":"IT","g":2,"t":"d","x":2.07,"y":0.965},{"l":"IT","g":2,"t":"d","x":2.25,"y":0.98},{"l":"IT","g":2,"t":"d","x":2.6,"y":0.99},{"l":"IT","g":2,"t":"d","x":3,"y":0.997},{"l":"IT","g":2,"t":"d","x":3.5,"y":1},{"l":"IT","g":2,"t":"d","x":4.05,"y":1},
{"l":"IT","g":3,"t":"d","x":0,"y":0.71},{"l":"IT","g":3,"t":"d","x":0.3,"y":0.81},{"l":"IT","g":3,"t":"d","x":0.45,"y":0.78},{"l":"IT","g":3,"t":"d","x":0.59,"y":0.81},{"l":"IT","g":3,"t":"d","x":0.7,"y":0.73},{"l":"IT","g":3,"t":"d","x":0.77,"y":0.85},{"l":"IT","g":3,"t":"d","x":0.85,"y":0.8},{"l":"IT","g":3,"t":"d","x":0.92,"y":0.85},{"l":"IT","g":3,"t":"d","x":0.98,"y":0.85},{"l":"IT","g":3,"t":"d","x":1.04,"y":0.91},{"l":"IT","g":3,"t":"d","x":1.13,"y":0.89},{"l":"IT","g":3,"t":"d","x":1.19,"y":0.85},{"l":"IT","g":3,"t":"d","x":1.24,"y":0.91},{"l":"IT","g":3,"t":"d","x":1.31,"y":0.9},{"l":"IT","g":3,"t":"d","x":1.39,"y":0.94},{"l":"IT","g":3,"t":"d","x":1.53,"y":0.95},{"l":"IT","g":3,"t":"d","x":1.71,"y":0.965},{"l":"IT","g":3,"t":"d","x":1.9,"y":0.97},{"l":"IT","g":3,"t":"d","x":2.25,"y":0.985},{"l":"IT","g":3,"t":"d","x":2.6,"y":0.995},{"l":"IT","g":3,"t":"d","x":3,"y":1},{"l":"IT","g":3,"t":"d","x":4.05,"y":1},
{"l":"IT","g":4,"t":"d","x":0.74,"y":0.85},{"l":"IT","g":4,"t":"d","x":0.81,"y":0.87},{"l":"IT","g":4,"t":"d","x":0.92,"y":0.91},{"l":"IT","g":4,"t":"d","x":1.03,"y":0.94},{"l":"IT","g":4,"t":"d","x":1.17,"y":0.94},{"l":"IT","g":4,"t":"d","x":1.31,"y":0.96},{"l":"IT","g":4,"t":"d","x":1.53,"y":0.97},{"l":"IT","g":4,"t":"d","x":1.9,"y":0.99},{"l":"IT","g":4,"t":"d","x":2.25,"y":1},{"l":"IT","g":4,"t":"d","x":4.05,"y":1},
{"l":"IT","g":5,"t":"d","x":0.5,"y":0.875},{"l":"IT","g":5,"t":"d","x":0.59,"y":0.91},{"l":"IT","g":5,"t":"d","x":0.66,"y":0.92},{"l":"IT","g":5,"t":"d","x":0.77,"y":0.9},{"l":"IT","g":5,"t":"d","x":0.88,"y":0.92},{"l":"IT","g":5,"t":"d","x":0.99,"y":0.94},{"l":"IT","g":5,"t":"d","x":1.17,"y":0.96},{"l":"IT","g":5,"t":"d","x":1.35,"y":0.97},{"l":"IT","g":5,"t":"d","x":1.53,"y":0.98},{"l":"IT","g":5,"t":"d","x":1.9,"y":0.995},{"l":"IT","g":5,"t":"d","x":2.25,"y":1},{"l":"IT","g":5,"t":"d","x":4.05,"y":1},

{"l":"RU","g":1,"t":"d","x":0,"y":0},{"l":"RU","g":1,"t":"d","x":0.31,"y":0.64},{"l":"RU","g":1,"t":"d","x":0.47,"y":0.59},{"l":"RU","g":1,"t":"d","x":0.61,"y":0.53},{"l":"RU","g":1,"t":"d","x":0.7,"y":0},{"l":"RU","g":1,"t":"d","x":0.78,"y":0.26},{"l":"RU","g":1,"t":"d","x":0.84,"y":0.8},{"l":"RU","g":1,"t":"d","x":0.88,"y":0.85},{"l":"RU","g":1,"t":"d","x":0.94,"y":0.78},{"l":"RU","g":1,"t":"d","x":1.01,"y":0.83},{"l":"RU","g":1,"t":"d","x":1.08,"y":0.86},{"l":"RU","g":1,"t":"d","x":1.12,"y":0.78},{"l":"RU","g":1,"t":"d","x":1.19,"y":0.81},{"l":"RU","g":1,"t":"d","x":1.27,"y":0.89},{"l":"RU","g":1,"t":"d","x":1.34,"y":0.85},{"l":"RU","g":1,"t":"d","x":1.45,"y":0.87},{"l":"RU","g":1,"t":"d","x":1.54,"y":0.9},{"l":"RU","g":1,"t":"d","x":1.63,"y":0.88},{"l":"RU","g":1,"t":"d","x":1.74,"y":0.92},{"l":"RU","g":1,"t":"d","x":1.88,"y":0.94},{"l":"RU","g":1,"t":"d","x":2.02,"y":0.95},{"l":"RU","g":1,"t":"d","x":2.17,"y":0.965},{"l":"RU","g":1,"t":"d","x":2.35,"y":0.98},{"l":"RU","g":1,"t":"d","x":2.53,"y":0.99},{"l":"RU","g":1,"t":"d","x":2.9,"y":0.997},{"l":"RU","g":1,"t":"d","x":3.3,"y":1},{"l":"RU","g":1,"t":"d","x":4.05,"y":1},
{"l":"RU","g":2,"t":"d","x":0,"y":0.905},{"l":"RU","g":2,"t":"d","x":0.31,"y":0.77},{"l":"RU","g":2,"t":"d","x":0.47,"y":0.75},{"l":"RU","g":2,"t":"d","x":0.61,"y":0.72},{"l":"RU","g":2,"t":"d","x":0.72,"y":0.83},{"l":"RU","g":2,"t":"d","x":0.8,"y":0.83},{"l":"RU","g":2,"t":"d","x":0.9,"y":0.815},{"l":"RU","g":2,"t":"d","x":1.01,"y":0.87},{"l":"RU","g":2,"t":"d","x":1.08,"y":0.81},{"l":"RU","g":2,"t":"d","x":1.16,"y":0.89},{"l":"RU","g":2,"t":"d","x":1.23,"y":0.87},{"l":"RU","g":2,"t":"d","x":1.3,"y":0.9},{"l":"RU","g":2,"t":"d","x":1.45,"y":0.9},{"l":"RU","g":2,"t":"d","x":1.59,"y":0.94},{"l":"RU","g":2,"t":"d","x":1.81,"y":0.96},{"l":"RU","g":2,"t":"d","x":2.17,"y":0.98},{"l":"RU","g":2,"t":"d","x":2.53,"y":0.99},{"l":"RU","g":2,"t":"d","x":2.9,"y":0.997},{"l":"RU","g":2,"t":"d","x":3.3,"y":1},{"l":"RU","g":2,"t":"d","x":4.05,"y":1},
{"l":"RU","g":3,"t":"d","x":0.47,"y":0.82},{"l":"RU","g":3,"t":"d","x":0.58,"y":0.815},{"l":"RU","g":3,"t":"d","x":0.72,"y":0.82},{"l":"RU","g":3,"t":"d","x":0.83,"y":0.86},{"l":"RU","g":3,"t":"d","x":0.94,"y":0.89},{"l":"RU","g":3,"t":"d","x":1.05,"y":0.86},{"l":"RU","g":3,"t":"d","x":1.16,"y":0.92},{"l":"RU","g":3,"t":"d","x":1.3,"y":0.935},{"l":"RU","g":3,"t":"d","x":1.45,"y":0.95},{"l":"RU","g":3,"t":"d","x":1.63,"y":0.96},{"l":"RU","g":3,"t":"d","x":1.81,"y":0.97},{"l":"RU","g":3,"t":"d","x":2.17,"y":0.99},{"l":"RU","g":3,"t":"d","x":2.53,"y":0.997},{"l":"RU","g":3,"t":"d","x":3,"y":1},{"l":"RU","g":3,"t":"d","x":4.05,"y":1},
{"l":"RU","g":4,"t":"d","x":0.56,"y":0.8},{"l":"RU","g":4,"t":"d","x":0.61,"y":0.83},{"l":"RU","g":4,"t":"d","x":0.69,"y":0.815},{"l":"RU","g":4,"t":"d","x":0.76,"y":0.82},{"l":"RU","g":4,"t":"d","x":0.83,"y":0.8},{"l":"RU","g":4,"t":"d","x":0.9,"y":0.87},{"l":"RU","g":4,"t":"d","x":0.98,"y":0.815},{"l":"RU","g":4,"t":"d","x":1.05,"y":0.91},{"l":"RU","g":4,"t":"d","x":1.12,"y":0.89},{"l":"RU","g":4,"t":"d","x":1.19,"y":0.92},{"l":"RU","g":4,"t":"d","x":1.3,"y":0.935},{"l":"RU","g":4,"t":"d","x":1.45,"y":0.94},{"l":"RU","g":4,"t":"d","x":1.63,"y":0.96},{"l":"RU","g":4,"t":"d","x":1.81,"y":0.98},{"l":"RU","g":4,"t":"d","x":2.17,"y":0.99},{"l":"RU","g":4,"t":"d","x":2.53,"y":0.997},{"l":"RU","g":4,"t":"d","x":3,"y":1},{"l":"RU","g":4,"t":"d","x":4.05,"y":1},
{"l":"RU","g":5,"t":"d","x":0.72,"y":0.845},{"l":"RU","g":5,"t":"d","x":0.78,"y":0.89},{"l":"RU","g":5,"t":"d","x":0.87,"y":0.875},{"l":"RU","g":5,"t":"d","x":0.94,"y":0.88},{"l":"RU","g":5,"t":"d","x":1.05,"y":0.935},{"l":"RU","g":5,"t":"d","x":1.16,"y":0.94},{"l":"RU","g":5,"t":"d","x":1.3,"y":0.96},{"l":"RU","g":5,"t":"d","x":1.45,"y":0.97},{"l":"RU","g":5,"t":"d","x":1.63,"y":0.98},{"l":"RU","g":5,"t":"d","x":1.81,"y":0.99},{"l":"RU","g":5,"t":"d","x":2.17,"y":0.997},{"l":"RU","g":5,"t":"d","x":2.6,"y":1},{"l":"RU","g":5,"t":"d","x":4.05,"y":1},

{"l":"ES","g":1,"t":"d","x":0,"y":0.02},{"l":"ES","g":1,"t":"d","x":0.29,"y":0.29},{"l":"ES","g":1,"t":"d","x":0.38,"y":0.53},{"l":"ES","g":1,"t":"d","x":0.47,"y":0.79},{"l":"ES","g":1,"t":"d","x":0.58,"y":0.8},{"l":"ES","g":1,"t":"d","x":0.69,"y":0.74},{"l":"ES","g":1,"t":"d","x":0.76,"y":0.875},{"l":"ES","g":1,"t":"d","x":0.85,"y":0.98},{"l":"ES","g":1,"t":"d","x":0.9,"y":0.62},{"l":"ES","g":1,"t":"d","x":0.96,"y":0.42},{"l":"ES","g":1,"t":"d","x":1.03,"y":0.49},{"l":"ES","g":1,"t":"d","x":1.08,"y":0.21},{"l":"ES","g":1,"t":"d","x":1.14,"y":0.785},{"l":"ES","g":1,"t":"d","x":1.19,"y":0.785},{"l":"ES","g":1,"t":"d","x":1.25,"y":0.815},{"l":"ES","g":1,"t":"d","x":1.32,"y":0.635},{"l":"ES","g":1,"t":"d","x":1.39,"y":0.68},{"l":"ES","g":1,"t":"d","x":1.46,"y":0.755},{"l":"ES","g":1,"t":"d","x":1.54,"y":0.785},{"l":"ES","g":1,"t":"d","x":1.61,"y":0.83},{"l":"ES","g":1,"t":"d","x":1.72,"y":0.86},{"l":"ES","g":1,"t":"d","x":1.86,"y":0.9},{"l":"ES","g":1,"t":"d","x":2,"y":0.93},{"l":"ES","g":1,"t":"d","x":2.22,"y":0.95},{"l":"ES","g":1,"t":"d","x":2.4,"y":0.97},{"l":"ES","g":1,"t":"d","x":2.58,"y":0.985},{"l":"ES","g":1,"t":"d","x":2.9,"y":0.995},{"l":"ES","g":1,"t":"d","x":3.3,"y":1},{"l":"ES","g":1,"t":"d","x":4.05,"y":1},
{"l":"ES","g":2,"t":"d","x":0,"y":0},{"l":"ES","g":2,"t":"d","x":0.31,"y":0},{"l":"ES","g":2,"t":"d","x":0.45,"y":0.54},{"l":"ES","g":2,"t":"d","x":0.58,"y":0.725},{"l":"ES","g":2,"t":"d","x":0.69,"y":0.7},{"l":"ES","g":2,"t":"d","x":0.78,"y":0.48},{"l":"ES","g":2,"t":"d","x":0.83,"y":0.635},{"l":"ES","g":2,"t":"d","x":0.9,"y":0.635},{"l":"ES","g":2,"t":"d","x":0.96,"y":0.81},{"l":"ES","g":2,"t":"d","x":1.03,"y":0.85},{"l":"ES","g":2,"t":"d","x":1.14,"y":0.84},{"l":"ES","g":2,"t":"d","x":1.21,"y":0.89},{"l":"ES","g":2,"t":"d","x":1.28,"y":0.83},{"l":"ES","g":2,"t":"d","x":1.36,"y":0.84},{"l":"ES","g":2,"t":"d","x":1.43,"y":0.77},{"l":"ES","g":2,"t":"d","x":1.48,"y":0.84},{"l":"ES","g":2,"t":"d","x":1.54,"y":0.76},{"l":"ES","g":2,"t":"d","x":1.61,"y":0.86},{"l":"ES","g":2,"t":"d","x":1.68,"y":0.875},{"l":"ES","g":2,"t":"d","x":1.72,"y":0.93},{"l":"ES","g":2,"t":"d","x":1.83,"y":0.905},{"l":"ES","g":2,"t":"d","x":1.93,"y":0.93},{"l":"ES","g":2,"t":"d","x":2.08,"y":0.94},{"l":"ES","g":2,"t":"d","x":2.22,"y":0.965},{"l":"ES","g":2,"t":"d","x":2.4,"y":0.98},{"l":"ES","g":2,"t":"d","x":2.58,"y":0.99},{"l":"ES","g":2,"t":"d","x":2.9,"y":0.996},{"l":"ES","g":2,"t":"d","x":3.3,"y":1},{"l":"ES","g":2,"t":"d","x":4.05,"y":1},
{"l":"ES","g":3,"t":"d","x":0,"y":0.755},{"l":"ES","g":3,"t":"d","x":0.27,"y":0.815},{"l":"ES","g":3,"t":"d","x":0.36,"y":0.8},{"l":"ES","g":3,"t":"d","x":0.47,"y":0.755},{"l":"ES","g":3,"t":"d","x":0.58,"y":0.84},{"l":"ES","g":3,"t":"d","x":0.69,"y":0.84},{"l":"ES","g":3,"t":"d","x":0.81,"y":0.875},{"l":"ES","g":3,"t":"d","x":0.87,"y":0.82},{"l":"ES","g":3,"t":"d","x":0.94,"y":0.86},{"l":"ES","g":3,"t":"d","x":1.03,"y":0.9},{"l":"ES","g":3,"t":"d","x":1.14,"y":0.85},{"l":"ES","g":3,"t":"d","x":1.21,"y":0.9},{"l":"ES","g":3,"t":"d","x":1.32,"y":0.92},{"l":"ES","g":3,"t":"d","x":1.5,"y":0.935},{"l":"ES","g":3,"t":"d","x":1.68,"y":0.95},{"l":"ES","g":3,"t":"d","x":1.86,"y":0.965},{"l":"ES","g":3,"t":"d","x":2.22,"y":0.98},{"l":"ES","g":3,"t":"d","x":2.58,"y":0.993},{"l":"ES","g":3,"t":"d","x":3,"y":1},{"l":"ES","g":3,"t":"d","x":4.05,"y":1},
{"l":"ES","g":4,"t":"d","x":0,"y":0.71},{"l":"ES","g":4,"t":"d","x":0.27,"y":0.785},{"l":"ES","g":4,"t":"d","x":0.45,"y":0.84},{"l":"ES","g":4,"t":"d","x":0.6,"y":0.84},{"l":"ES","g":4,"t":"d","x":0.69,"y":0.86},{"l":"ES","g":4,"t":"d","x":0.76,"y":0.9},{"l":"ES","g":4,"t":"d","x":0.85,"y":0.87},{"l":"ES","g":4,"t":"d","x":0.94,"y":0.88},{"l":"ES","g":4,"t":"d","x":1.03,"y":0.89},{"l":"ES","g":4,"t":"d","x":1.14,"y":0.92},{"l":"ES","g":4,"t":"d","x":1.32,"y":0.94},{"l":"ES","g":4,"t":"d","x":1.5,"y":0.96},{"l":"ES","g":4,"t":"d","x":1.68,"y":0.97},{"l":"ES","g":4,"t":"d","x":1.86,"y":0.985},{"l":"ES","g":4,"t":"d","x":2.22,"y":0.994},{"l":"ES","g":4,"t":"d","x":2.58,"y":0.998},{"l":"ES","g":4,"t":"d","x":3,"y":1},{"l":"ES","g":4,"t":"d","x":4.05,"y":1},
{"l":"ES","g":5,"t":"d","x":0.45,"y":0.85},{"l":"ES","g":5,"t":"d","x":0.58,"y":0.845},{"l":"ES","g":5,"t":"d","x":0.71,"y":0.86},{"l":"ES","g":5,"t":"d","x":0.78,"y":0.89},{"l":"ES","g":5,"t":"d","x":0.89,"y":0.875},{"l":"ES","g":5,"t":"d","x":0.99,"y":0.92},{"l":"ES","g":5,"t":"d","x":1.14,"y":0.935},{"l":"ES","g":5,"t":"d","x":1.28,"y":0.95},{"l":"ES","g":5,"t":"d","x":1.5,"y":0.97},{"l":"ES","g":5,"t":"d","x":1.86,"y":0.99},{"l":"ES","g":5,"t":"d","x":2.22,"y":0.997},{"l":"ES","g":5,"t":"d","x":2.6,"y":1},{"l":"ES","g":5,"t":"d","x":4.05,"y":1}
]
},
"data": {"name": "pts"},
"transform": [{"lookup": "l", "from": {"data": {"name": "langs"}, "key": "l", "fields": ["n", "r", "c"]}}],
"facet": {
  "row": {"field": "r", "type": "ordinal", "title": "E(k)", "header": {"labels": false, "titleOrient": "left", "titleFont": "DejaVu Serif", "titleFontStyle": "italic", "titleFontWeight": "normal", "titleFontSize": 26, "titleColor": "black", "titlePadding": 38}},
  "column": {"field": "c", "type": "ordinal", "title": null, "header": {"labels": false}}
},
"spacing": {"row": 41, "column": 60},
"bounds": "flush",
"resolve": {"axis": {"x": "independent", "y": "independent"}},
"title": {"text": "log₁₀ k", "orient": "bottom", "font": "DejaVu Serif", "fontSize": 25, "fontWeight": "normal", "color": "black", "anchor": "middle", "offset": 19, "dx": 20},
"spec": {
  "width": 385,
  "height": 233,
  "resolve": {"axis": {"x": "independent", "y": "independent"}},
  "layer": [
    {
      "transform": [{"filter": "datum.t == 'f'"}],
      "mark": {"type": "line", "strokeDash": [7, 4], "strokeWidth": 1.3, "interpolate": "monotone", "clip": true},
      "encoding": {
        "x": {"field": "x", "type": "quantitative", "scale": {"domain": [-0.08, 4.1], "nice": false, "zero": false},
              "axis": {"title": null, "grid": false, "orient": "bottom", "values": [1, 2, 3, 4], "format": "d",
                       "tickSize": -7, "domainColor": "black", "tickColor": "black", "labelColor": "black", "labelFont": "Liberation Sans", "labelFontSize": 20,
                       "labelPadding": 20, "labelFlush": false, "labelOverlap": false}},
        "y": {"field": "y", "type": "quantitative", "scale": {"domain": [0, 1.05], "nice": false},
              "axis": {"title": null, "grid": false, "orient": "left", "offset": -7.4, "values": [0.2, 0.4, 0.6, 0.8, 1], "format": ".1f",
                       "tickSize": -7, "domainColor": "black", "tickColor": "black", "labelColor": "black", "labelFont": "Liberation Sans", "labelFontSize": 20,
                       "labelPadding": 16, "labelFlush": false, "labelOverlap": false}},
        "color": {"field": "g", "type": "nominal",
                  "scale": {"domain": [1, 2, 3, 4, 5], "range": ["#5E81B5", "#E19C24", "#8FB032", "#EB6235", "#8778B3"]},
                  "legend": {"title": null, "orient": "none", "legendX": 1161, "legendY": 61, "symbolType": "square", "symbolSize": 324,
                             "symbolDash": [], "symbolStrokeWidth": 0,
                             "labelFont": "DejaVu Serif", "labelFontSize": 23, "labelColor": "black",
                             "labelOffset": 8, "rowPadding": 7,
                             "encode": {"symbols": {"update": {"fill": {"scale": "color", "field": "value"}, "strokeWidth": {"value": 0}, "opacity": {"value": 1}}},
                                        "labels": {"update": {"text": {"signal": "datum.label + '-gram'"}}}}}}
      }
    },
    {
      "transform": [{"filter": "datum.t == 'd'"}],
      "mark": {"type": "line", "strokeWidth": 3.8, "invalid": "break-paths-show-domains", "clip": true},
      "encoding": {
        "x": {"field": "x", "type": "quantitative",
              "axis": {"title": null, "grid": false, "orient": "bottom", "labels": false, "domain": false,
                       "values": [0.2,0.4,0.6,0.8,1.2,1.4,1.6,1.8,2.2,2.4,2.6,2.8,3.2,3.4,3.6,3.8],
                       "tickSize": -4, "tickColor": "black"}},
        "y": {"field": "y", "type": "quantitative",
              "axis": {"title": null, "grid": false, "orient": "left", "offset": -7.4, "labels": false, "domain": false,
                       "values": [0.05,0.1,0.15,0.25,0.3,0.35,0.45,0.5,0.55,0.65,0.7,0.75,0.85,0.9,0.95,1.05],
                       "tickSize": -4, "tickColor": "black"}},
        "color": {"field": "g", "type": "nominal"}
      }
    },
    {
      "transform": [{"filter": "datum.t == 'f' && datum.g == 1 && datum.x == 0"}],
      "mark": {"type": "text", "font": "DejaVu Serif", "fontSize": 25, "align": "center", "baseline": "alphabetic", "color": "black"},
      "encoding": {
        "x": {"datum": 0.83, "type": "quantitative", "axis": null},
        "y": {"datum": 0.98, "type": "quantitative", "axis": null},
        "text": {"field": "n"}
      }
    }
  ]
},
"config": {"view": {"stroke": null}, "axis": {"domainWidth": 1, "tickWidth": 1}}
}
